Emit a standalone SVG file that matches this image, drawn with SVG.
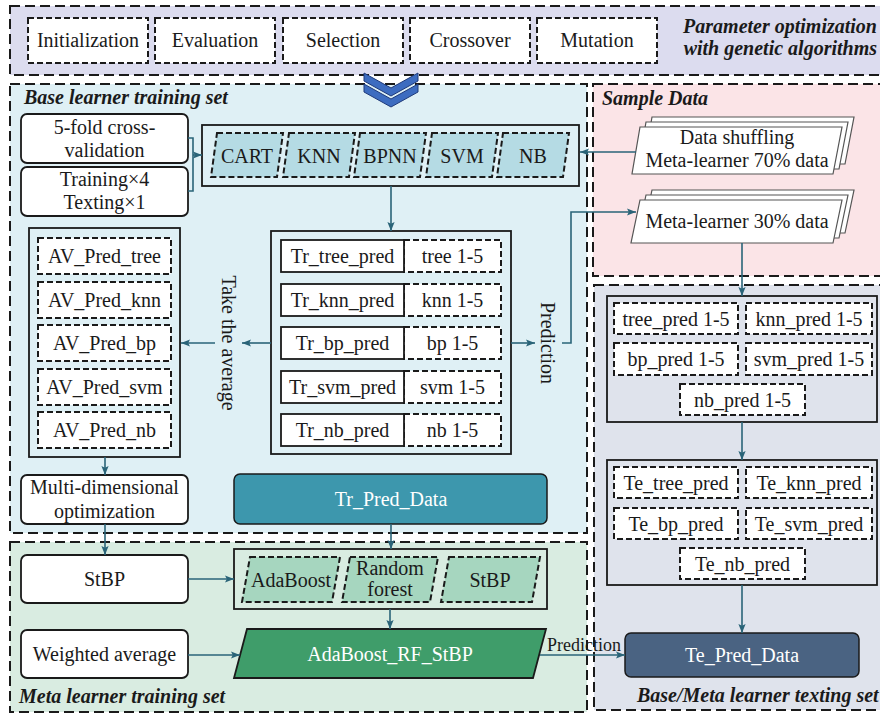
<svg xmlns="http://www.w3.org/2000/svg" width="880" height="715" viewBox="0 0 880 715">
<defs>
<marker id="ah" viewBox="0 0 10 10" refX="10" refY="5" markerWidth="9" markerHeight="9" markerUnits="userSpaceOnUse" orient="auto">
<path d="M0,1 L10,5 L0,9 L2,5 z" fill="#2a6478"/>
</marker>
<style>
text{font-family:"Liberation Serif","Times New Roman",serif;font-size:20px;fill:#1a1a1a;text-anchor:middle}
.ttl{font-weight:bold;font-style:italic;text-anchor:start}
.panel{stroke:#1a1a1a;stroke-width:2;stroke-dasharray:10,5}
.dbox{fill:#fff;stroke:#1a1a1a;stroke-width:2;stroke-dasharray:6,3}
.sbox{fill:#fff;stroke:#1a1a1a;stroke-width:1.8}
.cont{fill:none;stroke:#1a1a1a;stroke-width:1.8}
.rbox{fill:#fff;stroke:#1a1a1a;stroke-width:1.8}
.bpar{fill:#b5dbe4;stroke:#1a1a1a;stroke-width:2;stroke-dasharray:6,3}
.gpar{fill:#a6d6bf;stroke:#1a1a1a;stroke-width:2;stroke-dasharray:6,3}
.stk{fill:#fff;stroke:#555;stroke-width:1.2}
.wt{fill:#fff}
.con{fill:none;stroke:#2a6478;stroke-width:1.6}
.arr{marker-end:url(#ah)}
</style>
</defs>

<!-- panels -->
<g id="panels">
<rect class="panel" x="10" y="6" width="880" height="69" fill="#dcdcef"/>
<rect class="panel" x="10" y="84" width="577" height="449" fill="#dff0f5"/>
<rect class="panel" x="593" y="84" width="297" height="192" fill="#fbe4e7"/>
<rect class="panel" x="594" y="285" width="296" height="425" fill="#dfe3ec"/>
<rect class="panel" x="10" y="542" width="577" height="170" fill="#d9ece1"/>
<text class="ttl" x="877" y="33" style="text-anchor:end">Parameter optimization</text>
<text class="ttl" x="877" y="55" style="text-anchor:end">with genetic algorithms</text>
<text class="ttl" x="24" y="104">Base learner training set</text>
<text class="ttl" x="602" y="105">Sample Data</text>
<text class="ttl" x="19" y="703">Meta learner training set</text>
<text class="ttl" x="637" y="702">Base/Meta learner texting set</text>
</g>

<!-- GA steps -->
<g id="ga-init"><rect class="dbox" x="28" y="18" width="120" height="45"/><text x="88" y="47">Initialization</text></g>
<g id="ga-eval"><rect class="dbox" x="155" y="18" width="120" height="45"/><text x="215" y="47">Evaluation</text></g>
<g id="ga-sel"><rect class="dbox" x="283" y="18" width="120" height="45"/><text x="343" y="47">Selection</text></g>
<g id="ga-cross"><rect class="dbox" x="410" y="18" width="120" height="45"/><text x="470" y="47">Crossover</text></g>
<g id="ga-mut"><rect class="dbox" x="537" y="18" width="120" height="45"/><text x="597" y="47">Mutation</text></g>

<!-- chevron -->
<g id="chevron" fill="#3d6cc0" stroke="#1f3a7a" stroke-width="1">
<polygon points="364,73 391,88 418,73 418,81 391,96 364,81"/>
<polygon points="364,84 391,99 418,84 418,92 391,107 364,92"/>
</g>

<!-- cross validation -->
<g id="cv"><rect class="rbox" x="21" y="114" width="167" height="49" rx="6"/><text x="104.5" y="134">5-fold cross-</text><text x="104.5" y="157">validation</text></g>
<g id="tt"><rect class="rbox" x="21" y="167" width="167" height="49" rx="6"/><text x="104.5" y="186">Training×4</text><text x="104.5" y="209">Texting×1</text></g>

<!-- base learners -->
<g id="base-learners">
<rect class="cont" x="202" y="125" width="377" height="61"/>
<polygon class="bpar" points="217,133 283,133 277,177 211,177"/><text x="247" y="163">CART</text>
<polygon class="bpar" points="289,133 355,133 349,177 283,177"/><text x="319" y="163">KNN</text>
<polygon class="bpar" points="360,133 426,133 420,177 354,177"/><text x="390" y="163">BPNN</text>
<polygon class="bpar" points="432,133 498,133 492,177 426,177"/><text x="462" y="163">SVM</text>
<polygon class="bpar" points="503,133 569,133 563,177 497,177"/><text x="533" y="163">NB</text>
</g>

<!-- Tr predictions -->
<g id="tr-preds">
<rect class="cont" x="271" y="231" width="240" height="223"/>
<rect class="dbox" x="404" y="240" width="97" height="32"/><rect class="sbox" x="281" y="240" width="123" height="32"/><text x="342.5" y="263">Tr_tree_pred</text><text x="452.5" y="263">tree 1-5</text>
<rect class="dbox" x="404" y="284" width="97" height="32"/><rect class="sbox" x="281" y="284" width="123" height="32"/><text x="342.5" y="307">Tr_knn_pred</text><text x="452.5" y="307">knn 1-5</text>
<rect class="dbox" x="404" y="327" width="97" height="32"/><rect class="sbox" x="281" y="327" width="123" height="32"/><text x="342.5" y="350">Tr_bp_pred</text><text x="452.5" y="350">bp 1-5</text>
<rect class="dbox" x="404" y="371" width="97" height="32"/><rect class="sbox" x="281" y="371" width="123" height="32"/><text x="342.5" y="394">Tr_svm_pred</text><text x="452.5" y="394">svm 1-5</text>
<rect class="dbox" x="404" y="414" width="97" height="32"/><rect class="sbox" x="281" y="414" width="123" height="32"/><text x="342.5" y="437">Tr_nb_pred</text><text x="452.5" y="437">nb 1-5</text>
</g>

<!-- AV predictions -->
<g id="av-preds">
<rect class="cont" x="29" y="228" width="151" height="229"/>
<rect class="dbox" x="38" y="238" width="133" height="36"/><text x="104.5" y="263">AV_Pred_tree</text>
<rect class="dbox" x="38" y="282" width="133" height="36"/><text x="104.5" y="307">AV_Pred_knn</text>
<rect class="dbox" x="38" y="325" width="133" height="36"/><text x="104.5" y="350">AV_Pred_bp</text>
<rect class="dbox" x="38" y="369" width="133" height="36"/><text x="104.5" y="394">AV_Pred_svm</text>
<rect class="dbox" x="38" y="412" width="133" height="36"/><text x="104.5" y="437">AV_Pred_nb</text>
</g>

<g id="multi"><rect class="rbox" x="21" y="475" width="167" height="49" rx="6"/><text x="104.5" y="494">Multi-dimensional</text><text x="104.5" y="518">optimization</text></g>

<g id="tr-pred-data"><rect x="234" y="474" width="313" height="50" rx="6" fill="#3d97ad" stroke="#1a1a1a" stroke-width="1.5"/><text class="wt" x="391" y="506">Tr_Pred_Data</text></g>

<!-- Sample data -->
<g id="shuffle">
<polygon class="stk" points="652,117 854,117 845,164 644,164"/>
<polygon class="stk" points="646,122 848,122 839,169 638,169"/>
<polygon class="stk" points="640,127 842,127 833,174 632,174"/>
<text x="737" y="144">Data shuffling</text><text x="737" y="167">Meta-learner 70% data</text>
</g>
<g id="meta30">
<polygon class="stk" points="652,190 854,190 845,233 643,233"/>
<polygon class="stk" points="646,195 848,195 839,238 637,238"/>
<polygon class="stk" points="640,200 842,200 833,243 631,243"/>
<text x="737" y="228">Meta-learner 30% data</text>
</g>

<!-- test set -->
<g id="test-preds">
<rect class="cont" x="607" y="296" width="270" height="126"/>
<rect class="dbox" x="614" y="303" width="124" height="31"/><text x="676" y="326">tree_pred 1-5</text>
<rect class="dbox" x="746" y="303" width="126" height="31"/><text x="809" y="326">knn_pred 1-5</text>
<rect class="dbox" x="614" y="343" width="124" height="32"/><text x="676" y="366">bp_pred 1-5</text>
<rect class="dbox" x="746" y="343" width="126" height="32"/><text x="809" y="366">svm_pred 1-5</text>
<rect class="dbox" x="680" y="384" width="125" height="31"/><text x="742.5" y="407">nb_pred 1-5</text>
</g>
<g id="te-preds">
<rect class="cont" x="607" y="460" width="270" height="125"/>
<rect class="dbox" x="614" y="467" width="124" height="31"/><text x="676" y="490">Te_tree_pred</text>
<rect class="dbox" x="746" y="467" width="126" height="31"/><text x="809" y="490">Te_knn_pred</text>
<rect class="dbox" x="614" y="508" width="124" height="31"/><text x="676" y="531">Te_bp_pred</text>
<rect class="dbox" x="746" y="508" width="126" height="31"/><text x="809" y="531">Te_svm_pred</text>
<rect class="dbox" x="680" y="548" width="125" height="31"/><text x="742.5" y="571">Te_nb_pred</text>
</g>
<g id="te-pred-data"><rect x="625" y="633" width="234" height="44" rx="6" fill="#4a6382" stroke="#1a1a1a" stroke-width="1.5"/><text class="wt" x="742" y="662">Te_Pred_Data</text></g>

<!-- meta learner -->
<g id="stbp"><rect class="rbox" x="21" y="555" width="167" height="48" rx="6"/><text x="104.5" y="586">StBP</text></g>
<g id="wavg"><rect class="rbox" x="21" y="630" width="167" height="48" rx="6"/><text x="104.5" y="661">Weighted average</text></g>
<g id="ensemble">
<rect class="cont" x="234" y="549" width="313" height="60"/>
<polygon class="gpar" points="250,557 340,557 332,602 242,602"/><text x="291" y="587">AdaBoost</text>
<polygon class="gpar" points="350,557 438,557 430,602 342,602"/><text x="390" y="575">Random</text><text x="390" y="596">forest</text>
<polygon class="gpar" points="449,557 540,557 532,602 441,602"/><text x="490" y="587">StBP</text>
</g>
<g id="adaboost-rf-stbp"><polygon points="247,629 546,629 533,678 234,678" fill="#3f9d6a" stroke="#1a1a1a" stroke-width="1.8"/><text class="wt" x="390" y="661">AdaBoost_RF_StBP</text></g>

<!-- connectors -->
<g id="connectors">
<path class="con" d="M188,138 H193 V191 H188"/>
<path class="con arr" d="M193,155 H202"/>
<path class="con arr" d="M636,152 H580"/>
<path class="con arr" d="M391,186 V231"/>
<path class="con arr" d="M271,343 H242"/>
<path class="con arr" d="M215,343 H181"/>
<path class="con arr" d="M511,343 H535"/>
<path class="con arr" d="M562,343 H571 V212 H636"/>
<path class="con arr" d="M105,457 V475"/>
<path class="con arr" d="M105,524 V555"/>
<path class="con arr" d="M391,524 V549"/>
<path class="con arr" d="M188,579 H234"/>
<path class="con arr" d="M188,655 H240"/>
<path class="con arr" d="M390,609 V629"/>
<path class="con arr" d="M540,655 H625"/>
<path class="con arr" d="M742,243 V296"/>
<path class="con arr" d="M742,422 V460"/>
<path class="con arr" d="M742,585 V633"/>
<text transform="translate(229,343) rotate(90)" y="7">Take the average</text>
<text transform="translate(548,343) rotate(90)" y="7">Prediction</text>
<text x="584" y="651" style="font-size:18px">Prediction</text>
</g>
</svg>
